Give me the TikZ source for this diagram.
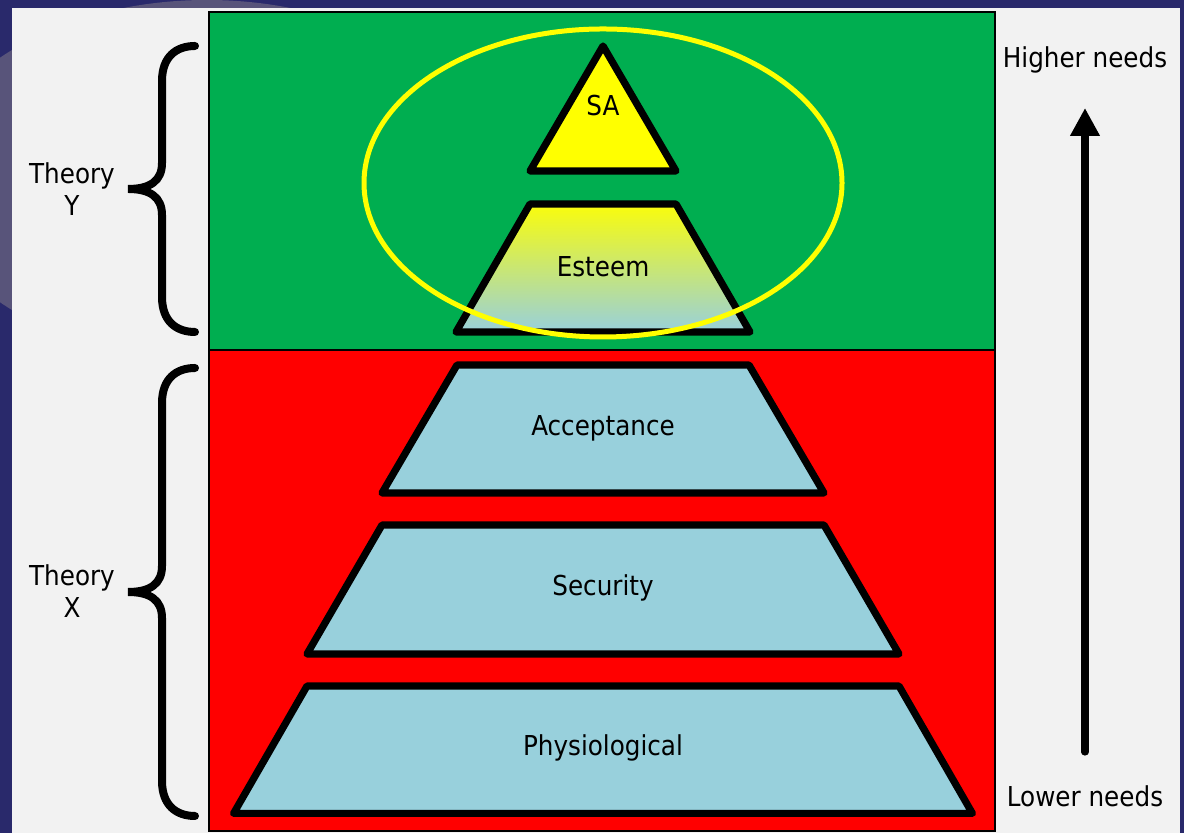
\documentclass[tikz,border=0pt]{standalone}
\usepackage{fontspec}
\setmainfont{DejaVu Sans Condensed}
\usepackage{tkz-euclide}
\usetikzlibrary{arrows.meta}
\definecolor{slideblue}{RGB}{41,41,107}
\definecolor{slidegray}{RGB}{242,242,242}
\definecolor{slidepurple}{RGB}{88,84,122}
\definecolor{needgreen}{RGB}{0,174,80}
\definecolor{needred}{RGB}{255,0,0}
\definecolor{needblue}{RGB}{152,208,220}
\definecolor{needyellow}{RGB}{255,255,0}

\begin{document}
\begin{tikzpicture}[font=\fontsize{19.5}{23}\selectfont,
    tier/.style={line width=0.18cm, line join=round, fill=needblue},
    curly/.style={line width=0.2cm, line cap=round}]
    \useasboundingbox (0,0) rectangle (29.6,20.825);
    % slide background
    \fill[slideblue] (0,0) rectangle (29.6,20.825);
    \begin{scope}
    \clip (0,0) rectangle (29.6,20.825);
    \fill[slidepurple] (5.175,16.325) ellipse [x radius=7.05, y radius=4.5];
    \end{scope}
    \fill[slidegray] (0.3,0) rectangle (29.5,20.625);
    % theory boxes
    \fill[needgreen] (5.225,12.075) rectangle (24.875,20.525);
    \fill[needred] (5.225,0.05) rectangle (24.875,12.075);
    \draw[line width=0.05cm] (5.225,0.05) rectangle (24.875,20.525);
    \draw[line width=0.05cm] (5.225,12.075) -- (24.875,12.075);
    % pyramid
    \tkzDefPoints{15.075/19.675/S1, 13.25/16.55/S2, 16.9/16.55/S3}
    \tkzDefPoints{13.25/15.725/E1, 16.9/15.725/E2, 18.75/12.525/E3, 11.4/12.525/E4}
    \tkzDefPoints{11.425/11.7/A1, 18.725/11.7/A2, 20.6/8.5/A3, 9.55/8.5/A4}
    \tkzDefPoints{9.55/7.7/B1, 20.6/7.7/B2, 22.475/4.475/B3, 7.675/4.475/B4}
    \tkzDefPoints{7.675/3.675/P1, 22.475/3.675/P2, 24.31/0.49/P3, 5.84/0.49/P4}
    \tkzDrawPolygon[tier, fill=needyellow](S1,S2,S3)
    \tkzDrawPolygon[tier, top color=needyellow!95!needblue, bottom color=needblue](E1,E2,E3,E4)
    \tkzDrawPolygon[tier](A1,A2,A3,A4)
    \tkzDrawPolygon[tier](B1,B2,B3,B4)
    \tkzDrawPolygon[tier](P1,P2,P3,P4)
    \node (sa) at (15.075,18.175) {SA};
    \node (esteem) at (15.075,14.15) {Esteem};
    \node (acceptance) at (15.075,10.125) {Acceptance};
    \node (security) at (15.075,6.125) {Security};
    \node (physiological) at (15.075,2.125) {Physiological};
    % ring round the top two
    \draw[needyellow, line width=0.125cm] (15.075,16.25) ellipse [x radius=5.975, y radius=3.85];
    % braces
    \draw[curly] (4.875,19.675) .. controls (4.4,19.675) and (4.05,19.4) .. (4.05,18.8)
        -- (4.05,16.75) .. controls (4.05,16.3) and (3.75,16.1) .. (3.2,16.1)
        .. controls (3.75,16.1) and (4.05,15.9) .. (4.05,15.45)
        -- (4.05,13.4) .. controls (4.05,12.8) and (4.4,12.525) .. (4.875,12.525);
    \draw[curly] (4.875,11.625) .. controls (4.4,11.625) and (4.05,11.35) .. (4.05,10.75)
        -- (4.05,6.675) .. controls (4.05,6.225) and (3.75,6.025) .. (3.2,6.025)
        .. controls (3.75,6.025) and (4.05,5.825) .. (4.05,5.375)
        -- (4.05,1.3) .. controls (4.05,0.7) and (4.4,0.425) .. (4.875,0.425);
    \node[align=center] (theoryY) at (1.8,16.1) {Theory\\Y};
    \node[align=center] (theoryX) at (1.8,6.05) {Theory\\X};
    % needs arrow
    \coordinate (low) at (27.125,2.025);
    \coordinate (high) at (27.125,18.125);
    \draw[line width=0.18cm, line cap=round, -{Triangle[length=0.7cm, width=0.7cm]}] (low) -- (high);
    \node (higher) at (27.125,19.325) {Higher needs};
    \node (lower) at (27.125,0.925) {Lower needs};
\end{tikzpicture}
\end{document}
